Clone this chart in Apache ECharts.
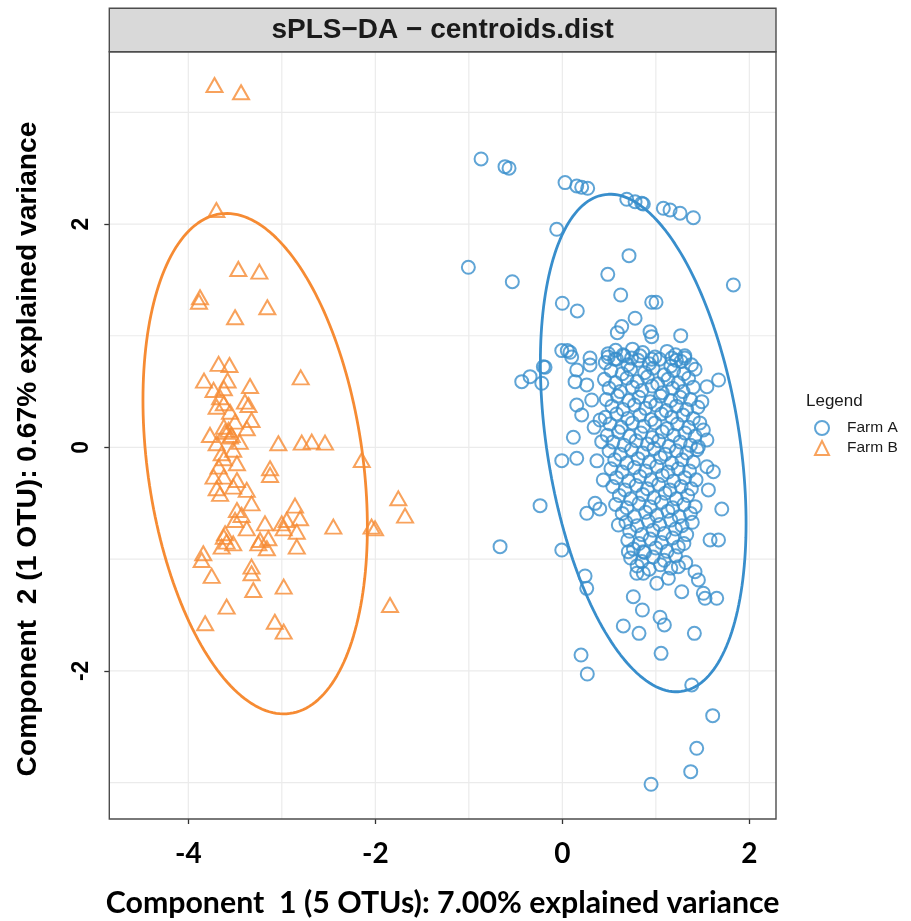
<!DOCTYPE html>
<html><head><meta charset="utf-8">
<script src="https://cdn.jsdelivr.net/npm/echarts@6.0.0/dist/echarts.min.js"></script>
<style>html,body{margin:0;padding:0;background:#fff}#c{width:911px;height:921px}</style>
</head><body><div id="c"></div>
<script>
// ---------- data ----------
const groupNames = ['Farm A', 'Farm B'];
const xTickValues = [-4, -2, 0, 2];
const yTickValues = [-2, 0, 2];
const xGridValues = [-4, -3, -2, -1, 0, 1, 2];
const yGridValues = [-3, -2, -1, 0, 1, 2, 3];
const xRange = [-4.845, 2.285];
const yRange = [-3.326, 3.543];

const farmA = [
[-0.869,2.583],[-0.613,2.514],[-0.57,2.5],[0.029,2.371],[0.154,2.341],[0.207,2.33],[0.271,2.32],
[0.689,2.222],[0.778,2.2],[0.849,2.186],[0.866,2.18],[1.08,2.141],[1.152,2.126],[1.259,2.097],[1.401,2.057],
[-0.06,1.953],[-1.005,1.613],[-0.535,1.484],[0.713,1.717],[0.486,1.55],[1.829,1.455],[0.624,1.365],
[0.956,1.3],[1.002,1.3],[0,1.291],[0.16,1.222],[0.778,1.157],[0.635,1.082],[0.588,1.028],[0.938,1.037],[0.956,0.992],[1.266,1.001],
[-0.006,0.867],[0.082,0.852],[0.053,0.867],[-0.203,0.723],
[-0.434,0.589],[-0.345,0.634],[-0.22,0.575],[-0.185,0.718],
[0.154,0.694],[0.296,0.739],[0.136,0.589],[0.261,0.56],[0.314,0.425],[0.154,0.38],[0.207,0.291],
[0.118,0.091],[-0.006,-0.118],[0.154,-0.097],[-0.238,-0.521],[-0.666,-0.888],[-0.006,-0.918],
[0.261,-0.589],[0.35,-0.5],[0.403,0.246],[0.421,0.052],[0.438,-0.291],[0.599,-0.694],
[0.34,0.18],[0.37,-0.12],[0.40,-0.55],
[1.671,0.604],[1.546,0.544],[1.492,0.41],[1.508,0.157],[1.546,0.067],[1.455,0.007],[1.546,-0.172],[1.615,-0.217],[1.562,-0.38],
[1.705,-0.551],[1.58,-0.828],[1.67,-0.828],
[0.243,-1.15],[0.261,-1.261],[0.706,-0.933],[0.866,-0.933],[0.796,-1.126],[0.866,-1.126],[1.01,-1.216],[1.134,-1.171],[1.241,-1.067],
[1.277,-1.291],[1.419,-1.112],[1.455,-1.186],[1.508,-1.305],[1.526,-1.35],[1.651,-1.35],
[0.759,-1.336],[0.856,-1.455],[0.652,-1.598],[0.82,-1.664],[1.045,-1.52],[1.091,-1.589],[1.412,-1.664],[1.056,-1.843],
[0.2,-1.858],[0.267,-2.028],[1.384,-2.126],[1.608,-2.401],[1.437,-2.693],[1.373,-2.902],[0.949,-3.015],
[0.10,0.81],[0.296,0.80],[0.49,0.81],[0.56,0.79],[0.65,0.83],[0.74,0.80],[0.83,0.82],[0.956,0.79],[1.17,0.80],[1.22,0.78],[1.31,0.82],
[0.49,0.84],[0.57,0.87],[0.66,0.82],[0.75,0.88],[0.86,0.85],[0.99,0.81],[1.12,0.86],[1.21,0.83],[1.31,0.80],
[0.46,0.76],[0.58,0.79],[0.70,0.74],[0.81,0.78],[0.93,0.75],[1.04,0.79],[1.16,0.73],[1.27,0.77],[1.38,0.74],
[0.52,0.69],[0.64,0.66],[0.73,0.70],[0.88,0.67],[0.97,0.71],[1.09,0.65],[1.19,0.69],[1.30,0.66],[1.42,0.70],
[0.45,0.61],[0.57,0.58],[0.69,0.62],[0.80,0.59],[0.91,0.63],[1.02,0.57],[1.13,0.61],[1.24,0.58],[1.35,0.62],
[0.50,0.53],[0.62,0.50],[0.75,0.54],[0.85,0.51],[0.96,0.55],[1.07,0.49],[1.18,0.53],[1.29,0.50],[1.40,0.54],
[0.47,0.43],[0.59,0.46],[0.71,0.42],[0.82,0.45],[0.94,0.41],[1.05,0.46],[1.16,0.42],[1.26,0.45],[1.37,0.43],
[0.53,0.37],[0.65,0.34],[0.77,0.38],[0.89,0.35],[1.00,0.38],[1.11,0.33],[1.22,0.37],[1.33,0.34],[1.45,0.36],
[0.46,0.27],[0.58,0.30],[0.70,0.26],[0.83,0.29],[0.95,0.25],[1.06,0.30],[1.17,0.27],[1.29,0.29],[1.40,0.26],
[0.51,0.21],[0.63,0.18],[0.75,0.22],[0.87,0.19],[0.99,0.22],[1.12,0.17],[1.23,0.21],[1.35,0.18],[1.47,0.22],
[0.48,0.11],[0.60,0.14],[0.72,0.10],[0.84,0.13],[0.96,0.09],[1.07,0.14],[1.19,0.11],[1.31,0.13],[1.42,0.10],
[0.54,0.05],[0.66,0.02],[0.79,0.06],[0.91,0.03],[1.03,0.06],[1.14,0.01],[1.26,0.05],[1.37,0.02],
[0.50,-0.03],[0.62,-0.06],[0.74,-0.02],[0.86,-0.05],[0.98,-0.01],[1.10,-0.06],[1.22,-0.03],[1.33,-0.05],[1.44,-0.02],
[0.56,-0.11],[0.69,-0.14],[0.81,-0.10],[0.93,-0.13],[1.05,-0.09],[1.17,-0.14],[1.28,-0.11],[1.40,-0.13],
[0.52,-0.19],[0.64,-0.22],[0.77,-0.18],[0.89,-0.21],[1.01,-0.17],[1.13,-0.22],[1.24,-0.19],[1.36,-0.21],
[0.58,-0.27],[0.71,-0.30],[0.83,-0.26],[0.95,-0.29],[1.07,-0.25],[1.19,-0.30],[1.31,-0.27],[1.43,-0.29],
[0.54,-0.35],[0.67,-0.38],[0.79,-0.34],[0.91,-0.37],[1.03,-0.33],[1.15,-0.38],[1.27,-0.35],[1.38,-0.37],
[0.61,-0.43],[0.73,-0.46],[0.86,-0.42],[0.98,-0.45],[1.10,-0.41],[1.22,-0.46],[1.34,-0.43],
[0.57,-0.51],[0.69,-0.54],[0.82,-0.50],[0.94,-0.53],[1.06,-0.49],[1.18,-0.54],[1.30,-0.51],[1.42,-0.53],
[0.64,-0.59],[0.77,-0.62],[0.89,-0.58],[1.01,-0.61],[1.13,-0.57],[1.25,-0.62],[1.37,-0.59],
[0.68,-0.67],[0.80,-0.70],[0.92,-0.66],[1.04,-0.69],[1.16,-0.65],[1.28,-0.70],[1.39,-0.67],
[0.72,-0.75],[0.85,-0.78],[0.97,-0.74],[1.09,-0.77],[1.21,-0.73],[1.33,-0.78],
[0.70,-0.83],[0.82,-0.86],[0.94,-0.82],[1.06,-0.85],[1.18,-0.81],[1.30,-0.86],
[0.76,-0.91],[0.88,-0.94],[1.00,-0.90],[1.12,-0.93],[1.24,-0.89],
[0.73,-0.99],[0.85,-1.02],[0.97,-0.98],[1.09,-1.01],[1.21,-0.97],[1.32,-1.03],
[0.80,-1.06],[0.93,-1.09],[1.05,-1.05],[1.16,-1.08]
];

const farmB = [
[-3.72,3.245],[-3.436,3.18],[-3.70,2.126],[-3.465,1.598],[-3.24,1.574],[-3.875,1.345],[-3.886,1.305],[-3.50,1.166],[-3.155,1.255],
[-3.676,0.748],[-3.56,0.738],[-3.832,0.598],[-2.798,0.628],[-3.34,0.55],[-3.73,0.515],[-3.62,0.53],
[-3.697,0.365],[-3.62,0.396],[-3.394,0.41],[-3.356,0.38],[-3.554,0.32],[-3.324,0.246],[-3.50,0.231],
[-3.62,0.186],[-3.57,0.157],[-3.375,0.172],[-3.768,0.112],[-3.554,0.097],[-3.697,0.038],[-3.037,0.038],
[-2.787,0.043],[-2.68,0.052],[-2.538,0.043],[-2.145,-0.112],[-3.62,-0.097],[-3.48,-0.141],[-3.676,-0.172],
[-3.126,-0.186],[-3.126,-0.246],[-3.73,-0.261],[-3.62,-0.261],[-3.48,-0.291],[-3.697,-0.365],[-3.52,-0.351],
[-3.375,-0.38],[-3.66,-0.416],[-3.324,-0.5],[-1.754,-0.455],[-1.682,-0.61],[-2.859,-0.521],[-3.48,-0.56],
[-3.43,-0.604],[-2.948,-0.649],[-2.805,-0.634],[-3.18,-0.679],[-3.375,-0.724],[-2.449,-0.709],[-2.04,-0.709],
[-2.003,-0.724],[-2.98,-0.724],[-2.84,-0.754],[-3.62,-0.8],[-3.59,-0.843],[-3.52,-0.858],[-3.233,-0.828],
[-3.144,-0.813],[-3.16,-0.902],[-2.84,-0.888],[-3.84,-0.947],[-3.857,-1.007],[-3.324,-1.067],[-3.324,-1.126],
[-3.75,-1.15],[-3.305,-1.276],[-2.98,-1.246],[-3.59,-1.425],[-1.843,-1.41],[-3.82,-1.574],[-3.075,-1.56],[-2.98,-1.649],
[-3.607,0.141],[-3.536,0.112],[-3.643,-0.052],[-3.5,-0.649],[-3.607,-0.768],[-3.643,-0.888],[-3.001,-0.679],[-3.251,-0.858],
[-3.66,0.45],[-3.58,0.60],[-3.45,0.05],[-3.52,-0.02]
];

// ellipse: centre, then [x half-extent, y half-extent, x shift of topmost point]
const ellipseCenterA = [0.865, 0.04];
const ellipseShapeA = [1.10, 2.227, -0.355];
const ellipseCenterB = [-3.285, -0.145];
const ellipseShapeB = [1.20, 2.24, -0.305];

// ---------- styling ----------
const colA = '#388ECC', colB = '#F68B33';
const G = {left: 109.3, top: 51.7, right: 776, bottom: 819};

function ellipsePts(c, s) {
  const hw = s[0], hh = s[1], dx = s[2];
  const l11 = hw, l21 = dx * hh / hw, l22 = Math.sqrt(hh * hh - l21 * l21);
  const pts = [];
  for (let i = 0; i <= 200; i++) {
    const t = 2 * Math.PI * i / 200;
    pts.push([c[0] + l11 * Math.cos(t), c[1] + l21 * Math.cos(t) + l22 * Math.sin(t)]);
  }
  return pts;
}
function fitFont(text, weight, family, target) {
  const ctx = document.createElement('canvas').getContext('2d');
  ctx.font = weight + ' 100px ' + family;
  return 100 * target / ctx.measureText(text).width;
}

const titleText = 'sPLS\u2212DA \u2212 centroids.dist';
const xTitle = 'Component  1 (5 OTUs): 7.00% explained variance';
const yTitle = 'Component  2 (1 OTU): 0.67% explained variance';
const titleSize = fitFont(titleText, 'bold', '"Liberation Sans"', 342);
const xTitleSize = fitFont(xTitle, 'bold', 'Lato', 674);
const yTitleSize = fitFont(yTitle, 'bold', '"Liberation Sans"', 655);

const gridSeries = [];
xGridValues.forEach(v => gridSeries.push({type: 'line', silent: true, symbol: 'none', z: 0,
  data: [[v, yRange[0]], [v, yRange[1]]], lineStyle: {color: '#EBEBEB', width: 1.2}}));
yGridValues.forEach(v => gridSeries.push({type: 'line', silent: true, symbol: 'none', z: 0,
  data: [[xRange[0], v], [xRange[1], v]], lineStyle: {color: '#EBEBEB', width: 1.2}}));

const chart = echarts.init(document.getElementById('c'), null, {renderer: 'canvas'});
chart.setOption({
  animation: false,
  grid: {left: G.left, top: G.top, right: 911 - G.right, bottom: 921 - G.bottom,
         show: true, borderColor: '#4D4D4D', borderWidth: 1.4, backgroundColor: 'rgba(0,0,0,0)', z: 5},
  xAxis: {type: 'value', min: xRange[0], max: xRange[1], splitLine: {show: false},
    axisLine: {show: false, onZero: false},
    axisTick: {show: true, customValues: xTickValues, length: 5, lineStyle: {color: '#333', width: 1.3}},
    axisLabel: {customValues: xTickValues, margin: 21, color: '#000', fontFamily: 'Lato', fontWeight: 'bold', fontSize: 28}},
  yAxis: {type: 'value', min: yRange[0], max: yRange[1], splitLine: {show: false},
    axisLine: {show: false, onZero: false},
    axisTick: {show: true, customValues: yTickValues, length: 5, lineStyle: {color: '#333', width: 1.3}},
    axisLabel: {customValues: yTickValues, rotate: 90, margin: 16, color: '#000', fontFamily: '"Liberation Sans"', fontWeight: 'bold', fontSize: 23}},
  legend: {orient: 'vertical', left: 809, top: 415, itemWidth: 14, itemHeight: 14, itemGap: 4,
    textStyle: {fontFamily: '"Liberation Sans"', fontSize: 15.5, color: '#1A1A1A', padding: [0, 0, 0, 13]},
    data: [
      {name: groupNames[0], icon: 'circle', itemStyle: {color: 'rgba(0,0,0,0)', borderColor: colA, borderWidth: 2}},
      {name: groupNames[1], icon: 'triangle', itemStyle: {color: 'rgba(0,0,0,0)', borderColor: colB, borderWidth: 2}}
    ]},
  graphic: [
    {type: 'rect', shape: {x: G.left, y: 8.3, width: G.right - G.left, height: G.top - 8.3},
     style: {fill: '#D9D9D9', stroke: '#4D4D4D', lineWidth: 1.4}, z: 10},
    {type: 'text', x: (G.left + G.right) / 2, y: 30.5, z: 11,
     style: {text: titleText, fill: '#1A1A1A', font: 'bold ' + titleSize.toFixed(1) + 'px "Liberation Sans"', textAlign: 'center', textVerticalAlign: 'middle'}},
    {type: 'text', x: (G.left + G.right) / 2, y: 903, z: 11,
     style: {text: xTitle, fill: '#000', font: 'bold ' + xTitleSize.toFixed(1) + 'px Lato', textAlign: 'center', textVerticalAlign: 'middle'}},
    {type: 'text', x: 28, y: 449, rotation: Math.PI / 2, z: 11,
     style: {text: yTitle, fill: '#000', font: 'bold ' + yTitleSize.toFixed(1) + 'px "Liberation Sans"', textAlign: 'center', textVerticalAlign: 'middle'}},
    {type: 'text', x: 806, y: 401, z: 11,
     style: {text: 'Legend', fill: '#1A1A1A', font: '17px "Liberation Sans"', textAlign: 'left', textVerticalAlign: 'middle'}}
  ],
  series: gridSeries.concat([
    {name: groupNames[0], type: 'scatter', data: farmA, symbol: 'circle', symbolSize: 13, z: 3,
     itemStyle: {color: 'rgba(0,0,0,0)', borderColor: colA, borderWidth: 2}},
    {name: groupNames[1], type: 'scatter', data: farmB, symbol: 'triangle', symbolSize: [16, 14], z: 3,
     itemStyle: {color: 'rgba(0,0,0,0)', borderColor: colB, borderWidth: 2}},
    {type: 'line', data: ellipsePts(ellipseCenterA, ellipseShapeA), symbol: 'none', silent: true, z: 4,
     lineStyle: {color: colA, width: 2.8}},
    {type: 'line', data: ellipsePts(ellipseCenterB, ellipseShapeB), symbol: 'none', silent: true, z: 4,
     lineStyle: {color: colB, width: 2.8}}
  ])
});
</script></body></html>
